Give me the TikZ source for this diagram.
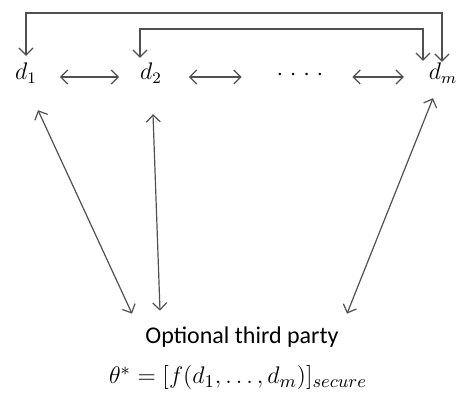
\documentclass[tikz,border=0pt]{standalone}
\usepackage{amsmath}
\usepackage{fontspec}
\setmainfont{Carlito}
\usetikzlibrary{arrows.meta}
\definecolor{linegray}{HTML}{505050}
\tikzstyle{biedge} = [semithick, linegray, <->, >={Straight Barb[length=3.5pt,width=7pt]}]

\begin{document}
\begin{tikzpicture}[x=0.5pt,y=-0.5pt,every node/.style={font=\large}]
    \useasboundingbox (0,0) rectangle (456,400);
    \node (d1) at (26,73) {\(d_1\)};
    \node (d2) at (151,73) {\(d_2\)};
    \node (dots) at (300,75) {\({\cdot}\;{\cdot}\;{\cdot}\;{\cdot}\)};
    \node (dm) at (443,73) {\(d_m\)};
    \node (party) at (242,337) {Optional third party};
    \node[font=\fontsize{13}{15}\selectfont] (theta) at (238,378)
        {\(\theta^{*}=[f(d_1,\ldots,d_m)]_{secure}\)};
    % brackets over the top
    \draw[biedge] (d1.north) |- (200,13) -| ([xshift=-0.5pt,yshift=-3pt]dm.north);
    \draw[biedge] ([xshift=-5.5pt,yshift=-1pt]d2.north) |- (300,29) -| ([xshift=-10pt,yshift=-2.5pt]dm.north);
    % neighbours
    \draw[biedge] ([xshift=8pt,yshift=-2pt]d1.east) -- ([xshift=-7pt,yshift=-2pt]d2.west);
    \draw[biedge] ([xshift=10pt,yshift=-2pt]d2.east) -- ([xshift=-14pt,yshift=-1pt]dots.west);
    \draw[biedge] ([xshift=11pt,yshift=-1pt]dots.east) -- ([xshift=-9pt,yshift=-2pt]dm.west);
    % to the third party
    \draw[biedge] ([xshift=6pt,yshift=-10pt]d1.south) -- ([shift={(-110,-6)}]party.north);
    \draw[biedge] ([xshift=1pt,yshift=-12pt]d2.south) -- ([shift={(-82,-9)}]party.north);
    \draw[biedge] ([xshift=-5pt,yshift=-4pt]dm.south) -- ([shift={(105,-6)}]party.north);
\end{tikzpicture}
\end{document}
